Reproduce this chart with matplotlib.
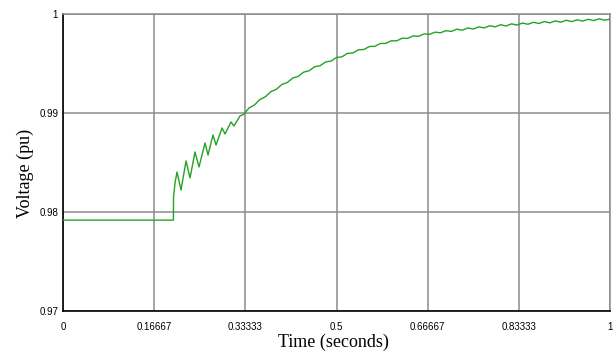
import numpy as np
import matplotlib
matplotlib.use("Agg")
from matplotlib import pyplot as plt

# time (s) and voltage (pu)
t = [0.0, 0.2018, 0.2020, 0.2050, 0.2084, 0.2157, 0.2249, 0.2322, 0.2413,
     0.2486, 0.2596, 0.2651, 0.2742, 0.2797, 0.2907, 0.2962, 0.3071, 0.3126,
     0.3236, 0.3300,
     0.34, 0.35, 0.36, 0.37, 0.38, 0.39, 0.40, 0.41, 0.42, 0.43, 0.44, 0.45,
     0.46, 0.47, 0.48, 0.49, 0.50, 0.51, 0.52, 0.53, 0.54, 0.55, 0.56, 0.57,
     0.58, 0.59, 0.60, 0.61, 0.62, 0.63, 0.64, 0.65, 0.66, 0.67, 0.68, 0.69,
     0.70, 0.71, 0.72, 0.73, 0.74, 0.75, 0.76, 0.77, 0.78, 0.79, 0.80, 0.81,
     0.82, 0.83, 0.84, 0.85, 0.86, 0.87, 0.88, 0.89, 0.90, 0.91, 0.92, 0.93,
     0.94, 0.95, 0.96, 0.97, 0.98, 0.99, 1.00]
v = [0.97916, 0.97916, 0.98150, 0.98300, 0.98402, 0.98220, 0.98514, 0.98342,
     0.98605, 0.98453, 0.98696, 0.98574, 0.98777, 0.98675, 0.98847, 0.98787,
     0.98908, 0.98868, 0.98969, 0.98985,
     0.99049, 0.99080, 0.99136, 0.99163, 0.99215, 0.99238, 0.99287, 0.99307,
     0.99353, 0.99369, 0.99412, 0.99426, 0.99466, 0.99477, 0.99515, 0.99524,
     0.99560, 0.99567, 0.99601, 0.99606, 0.99638, 0.99641, 0.99671, 0.99673,
     0.99702, 0.99702, 0.99729, 0.99728, 0.99755, 0.99753, 0.99778, 0.99774,
     0.99798, 0.99794, 0.99816, 0.99810, 0.99831, 0.99824, 0.99846, 0.99836,
     0.99858, 0.99848, 0.99870, 0.99859, 0.99881, 0.99870, 0.99891, 0.99879,
     0.99900, 0.99888, 0.99908, 0.99896, 0.99916, 0.99904, 0.99923, 0.99910,
     0.99930, 0.99917, 0.99936, 0.99923, 0.99941, 0.99928, 0.99946, 0.99933,
     0.99951, 0.99937, 0.99947]

xticks = [0, 1/6, 1/3, 0.5, 2/3, 5/6, 1]
xlabels = ['0', '0.16667', '0.33333', '0.5', '0.66667', '0.83333', '1']
yticks = [0.97, 0.98, 0.99, 1.0]
ylabels = ['0.97', '0.98', '0.99', '1']

fig = plt.figure(figsize=(6.16, 3.61), dpi=100)
ax = fig.add_axes([0.1023, 0.1393, 0.888, 0.822])

ax.plot(t, v, color='#22a322', lw=1.0, zorder=3)

ax.set_xlim(0, 1)
ax.set_ylim(0.97, 1.0)
ax.set_xticks(xticks)
ax.set_xticklabels(xlabels, fontsize=7, family='Liberation Sans')
ax.set_yticks(yticks)
ax.set_yticklabels(ylabels, fontsize=7, family='Liberation Sans')
ax.tick_params(length=0)
ax.tick_params(axis='x', pad=8)
ax.tick_params(axis='y', pad=3.5)
ax.grid(True, color='#8c8c8c', lw=1.1)

for s in ['top', 'right']:
    ax.spines[s].set_color('#8c8c8c')
    ax.spines[s].set_linewidth(1.1)
for s in ['left', 'bottom']:
    ax.spines[s].set_color('black')
    ax.spines[s].set_linewidth(1.2)

fig.text(0.542, 0.028, 'Time (seconds)', ha='center', va='bottom',
         fontsize=13, family='Liberation Serif')
fig.text(0.041, 0.52, 'Voltage (pu)', ha='center', va='center', rotation=90,
         fontsize=13, family='Liberation Serif')

fig.savefig('out.png', dpi=100)
